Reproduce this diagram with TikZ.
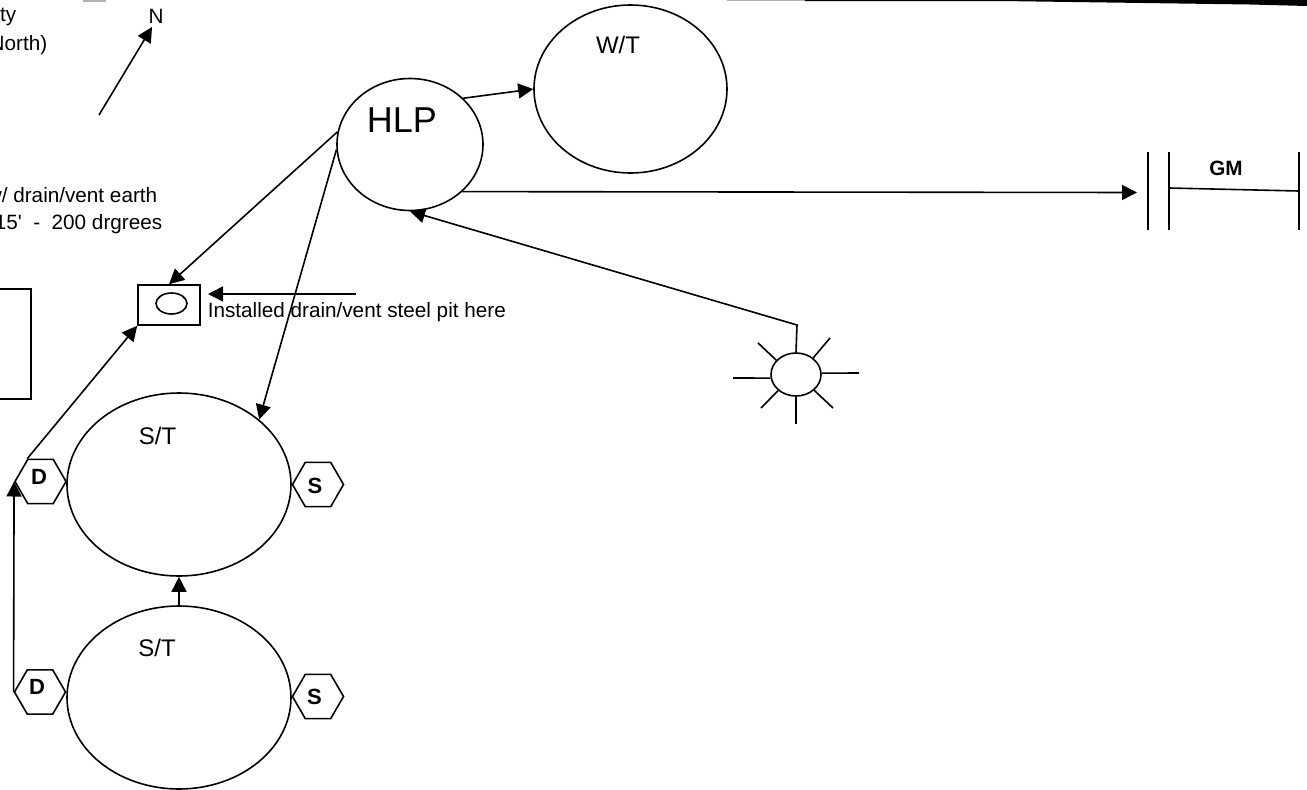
\documentclass[tikz,border=0pt]{standalone}
\usepackage{fontspec}
\setmainfont{Liberation Sans}
\usetikzlibrary{arrows.meta,shapes.geometric}
\tikzset{tank/.style={draw,shape=ellipse,inner sep=0pt},
  hexa/.style={draw,shape=regular polygon,regular polygon sides=6,minimum size=51pt,inner sep=0pt},
  hexlbl/.style={font=\fontsize{22}{22}\selectfont\bfseries,inner sep=0pt},
  tanklbl/.style={font=\fontsize{24}{24}\selectfont,inner sep=0pt},
  flow/.style={-{Triangle[length=15pt,width=15pt]}},
  lbl/.style={font=\fontsize{20.7}{20.7}\selectfont,inner sep=0pt}}

\begin{document}
\begin{tikzpicture}[x=1pt, y=-1pt, line width=1.6pt]
    \useasboundingbox (0, 0) rectangle (1307, 790);
    \clip (0, 0) rectangle (1307, 790);

    \node [tank, minimum width=146pt, minimum height=132pt] (hlp) at (410, 144.5) {};
    \node [tank, minimum width=193pt, minimum height=168pt] (wt) at (630.5, 89) {};
    \node [tank, minimum width=224pt, minimum height=183pt] (upper) at (179, 484.5) {};
    \node [tank, minimum width=224pt, minimum height=183pt] (lower) at (179, 697.5) {};
    \node [hexa] (dupper) at (40.5, 481.5) {};
    \node [hexa] (supper) at (318, 484.5) {};
    \node [hexa] (dlower) at (40, 692) {};
    \node [hexa] (slower) at (318, 696.5) {};

    \node [font=\fontsize{36}{36}\selectfont, inner sep=0pt] (hlplabel) at (402, 120) {HLP};
    \node [tanklbl] (wtlabel) at (618, 45) {W/T};
    \node [tanklbl] (upperlabel) at (157.5, 436) {S/T};
    \node [tanklbl] (lowerlabel) at (157, 648) {S/T};
    \node [hexlbl] (dupperlabel) at (39, 477) {D};
    \node [hexlbl] (supperlabel) at (315, 486) {S};
    \node [hexlbl] (dlowerlabel) at (37, 687) {D};
    \node [hexlbl] (slowerlabel) at (314.5, 697) {S};

    % steel pit
    \node [draw, minimum width=62pt, minimum height=40pt, inner sep=0pt] (pit) at (169, 305) {};
    \node [draw, shape=ellipse, minimum width=31pt, minimum height=21pt, inner sep=0pt] (hole) at (171.5, 303.5) {};
    \coordinate (pointer) at (356, 294);
    \coordinate (pointerend) at (208, 294);
    \draw [flow] (pointer) to (pointerend);
    \node [lbl, anchor=west] (pitlabel) at (207, 312) {Installed drain/vent steel pit here};

    \draw (0, 289) to (31, 289) to (31, 399) to (0, 399);

    % north mark and cut off notes
    \coordinate (northfoot) at (99, 115);
    \coordinate (northhead) at (152, 27);
    \draw [flow] (northfoot) to (northhead);
    \node [lbl] (northlabel) at (156, 16) {N};
    \node [lbl, anchor=east] (noteone) at (17, 16) {ity};
    \node [lbl, anchor=east] (notetwo) at (48, 45) {North)};
    \node [lbl, anchor=east] (notethree) at (158, 195) {w/ drain/vent earth};
    \node [lbl, anchor=east] (notefour) at (163, 224) {15\textquotesingle\ \ -\ \ 200 drgrees};

    % gas meter
    \coordinate (gmin) at (1137, 192.5);
    \draw (1148, 152) to (1148, 230);
    \draw (1169, 152) to (1169, 230);
    \draw (1299, 152) to (1299, 230);
    \draw (1169, 188) to (1299, 191);
    \node [lbl, font=\fontsize{20.7}{20.7}\selectfont\bfseries] (gmlabel) at (1226, 168) {GM};

    % burner
    \node [draw, shape=ellipse, minimum width=50pt, minimum height=43pt, inner sep=0pt] (sun) at (796, 374.5) {};
    \coordinate (sunbend) at (797, 325);
    \draw (sun.188) to (733, 378);
    \draw (sun.3) to (859, 373);
    \draw (sun.144) to (758, 343);
    \draw (sun.44) to (830, 338);
    \draw (sun.222) to (761, 408);
    \draw (sun.319) to (833, 408);
    \draw (sun.270) to (796, 424);

    \draw [flow] (hlp.41) to (wt.180);
    \draw [flow] (hlp.318) to (gmin);
    \draw [flow] (hlp.170) to (pit.north);
    \draw [flow] (hlp.184) to (upper.39);
    \draw [flow] (sun.90) to (sunbend) to (hlp.270);
    \draw [flow] (dupper.120) to (pit.south west);
    \draw [flow] (dlower.180) to (dupper.180);
    \draw [flow] (lower.90) to (upper.270);

    % scan edge
    \fill [gray!60] (727, 0) rectangle (805, 1);
    \fill (805, 0) to (1307, 0) to (1307, 6) to (1250, 4.5) to (1000, 1) to (805, 1) to cycle;
    \fill [gray!60] (83, 0) rectangle (106, 1.5);
\end{tikzpicture}
\end{document}
